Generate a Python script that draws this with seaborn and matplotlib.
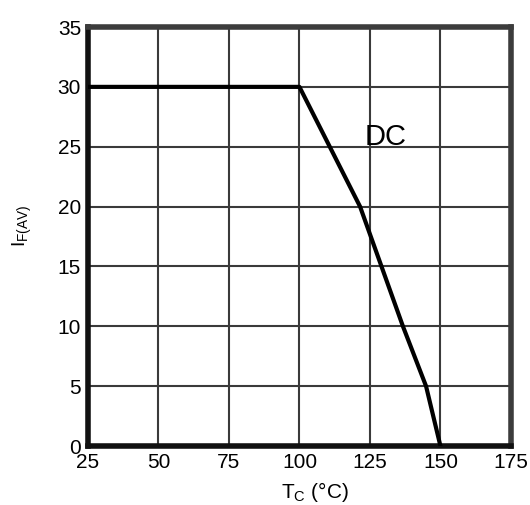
import matplotlib
matplotlib.use("Agg")
import matplotlib.pyplot as plt
import seaborn as sns
import pandas as pd

# data
temp_c = [25, 100, 121.5, 136.7, 144.9, 150]
current_a = [30, 30, 20, 10, 5, 0]
x_ticks = [25, 50, 75, 100, 125, 150, 175]
y_ticks = [0, 5, 10, 15, 20, 25, 30, 35]

sns.set_theme(style="white")
plt.rcParams['font.family'] = ['Liberation Sans', 'DejaVu Sans']
plt.rcParams['mathtext.fontset'] = 'custom'
plt.rcParams['mathtext.rm'] = 'Liberation Sans'
plt.rcParams['mathtext.default'] = 'regular'

fig = plt.figure(figsize=(5.3, 5.05), dpi=100)
ax = fig.add_axes([0.166, 0.1168, 0.798, 0.8297])

df = pd.DataFrame({"T": temp_c, "I": current_a})
sns.lineplot(data=df, x="T", y="I", ax=ax, color="black", linewidth=3,
             sort=False, estimator=None, zorder=3)

ax.set_xlim(25, 175)
ax.set_ylim(0, 35)
ax.set_xticks(x_ticks)
ax.set_yticks(y_ticks)
ax.grid(True, color="#3a3a3a", linewidth=1.5)
ax.set_axisbelow(True)
for side, sp in ax.spines.items():
    sp.set_visible(True)
    sp.set_linewidth(4)
    sp.set_color("#3c3c3c")
ax.spines['left'].set_color("#111111")
ax.spines['bottom'].set_color("#111111")

ax.tick_params(axis='both', length=0, labelsize=15, colors="black")
ax.tick_params(axis='x', pad=5)
ax.tick_params(axis='y', pad=5)

ax.set_xlabel(r"T$_{C}$ (°C)", fontsize=15, color="black")
ax.xaxis.set_label_coords(0.537, -0.08)
ax.set_ylabel(r"I$_{F(AV)}$", fontsize=14, color="black")
ax.yaxis.set_label_coords(-0.128, 0.525)

ax.text(130.7, 25.15, "DC", fontsize=21, ha="center", va="baseline", color="black")

fig.savefig("out.png", dpi=100)
